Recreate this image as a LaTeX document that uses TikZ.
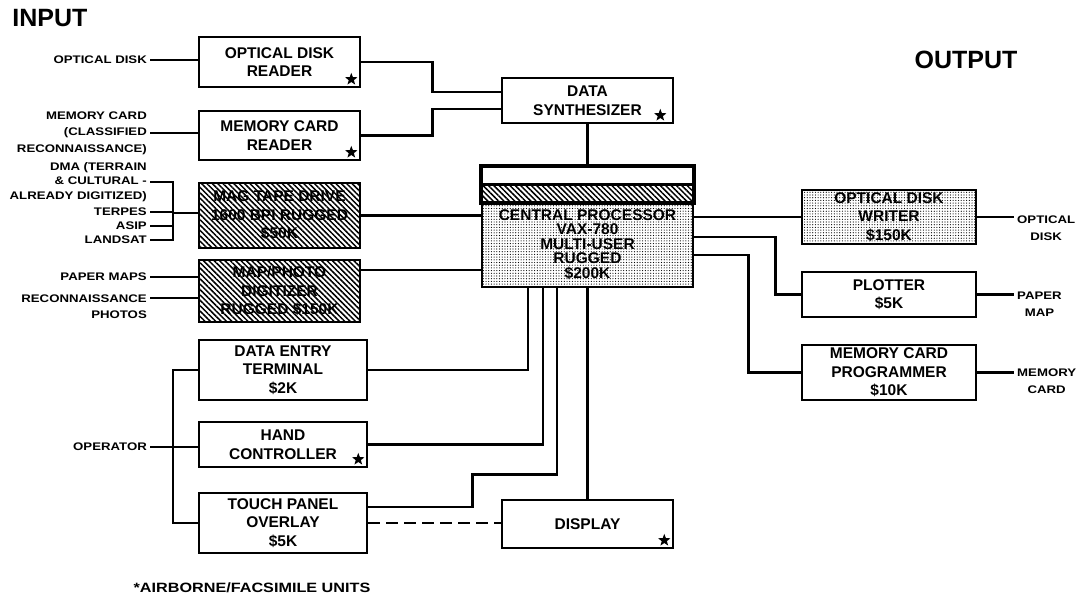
\documentclass[tikz,border=0pt]{standalone}
\usepackage{fontspec}
\usepackage{tikz}
\usetikzlibrary{calc,patterns.meta,shapes.geometric}
\newfontfamily\boxfam{Liberation Sans}
\newfontfamily\lblfam{Liberation Sans}[FakeStretch=1.2]
\newcommand\boxtxt{\boxfam\bfseries\fontsize{15.5}{18.5}\selectfont}
\newcommand\cputxt{\boxfam\bfseries\fontsize{15.5}{14.5}\selectfont}
\newcommand\lbltxt{\lblfam\bfseries\fontsize{11}{16.5}\selectfont}
\newcommand\dmatxt{\lblfam\bfseries\fontsize{11}{14.5}\selectfont}
\newcommand\outtxt{\lblfam\bfseries\fontsize{11}{17}\selectfont}
\newcommand\notetxt{\lblfam\bfseries\fontsize{13.5}{16}\selectfont}
\newcommand\ttltxt{\boxfam\bfseries\fontsize{25}{28}\selectfont}
\tikzset{
  blk/.style     = {draw, line width=2.6pt, fill=white, align=center, inner sep=2pt, font=\boxtxt},
  hatchblk/.style= {blk, pattern={Lines[angle=-45,distance=3.8pt,line width=1.5pt]}},
  dotblk/.style  = {blk, pattern={Dots[radius=0.6pt,distance=2.7pt]}},
  wire/.style    = {line width=2.6pt},
  inlbl/.style   = {font=\lbltxt, align=right, inner sep=3pt},
  outlbl/.style  = {font=\outtxt, align=center, inner sep=3pt},
  ttl/.style     = {font=\ttltxt, inner sep=0pt},
  airb/.style    = {star, star points=5, star point ratio=2.4, fill, inner sep=0pt, minimum size=13pt},
}
\begin{document}
\begin{tikzpicture}[x=1pt,y=-1pt]
  \useasboundingbox (0,0) rectangle (1084,600);
  \node[ttl] (tin) at (50,18) {INPUT};
  \node[ttl] (tout) at (966,60) {OUTPUT};

  % input side
  \node[blk, minimum width=161pt, minimum height=50pt] (odr) at (279.5,62) {OPTICAL DISK\\READER};
  \node[blk, minimum width=161pt, minimum height=49pt] (mcr) at (279.5,135.5) {MEMORY CARD\\READER};
  \node[hatchblk, minimum width=161pt, minimum height=65pt] (mtd) at (279.5,215.5) {MAG TAPE DRIVE\\1600 BPI RUGGED\\\$50K};
  \node[hatchblk, minimum width=161pt, minimum height=62pt] (mpd) at (279.5,291) {MAP/PHOTO\\DIGITIZER\\RUGGED \$150K};
  \node[blk, minimum width=168pt, minimum height=60pt] (det) at (283,370) {DATA ENTRY\\TERMINAL\\\$2K};
  \node[blk, minimum width=168pt, minimum height=45pt] (hc) at (283,444.5) {HAND\\CONTROLLER};
  \node[blk, minimum width=168pt, minimum height=60pt] (tpo) at (283,523) {TOUCH PANEL\\OVERLAY\\\$5K};

  % centre
  \node[blk, minimum width=171pt, minimum height=45pt] (ds) at (587.5,100.5) {DATA\\SYNTHESIZER};
  \node[dotblk, minimum width=211pt, minimum height=85pt, font=\cputxt] (cpu) at (587.5,244.5)
    {CENTRAL PROCESSOR\\VAX-780\\MULTI-USER\\RUGGED\\\$200K};
  \node[blk, minimum width=211pt, minimum height=35pt, anchor=south] (cpucap) at ([yshift=-2.6pt]cpu.north) {};
  \fill[pattern={Lines[angle=-45,distance=3.8pt,line width=1.5pt]}] (cpucap.west) rectangle (cpucap.south east);
  \draw[line width=2.6pt] (cpucap.west) -- (cpucap.east);
  \draw[line width=2.6pt] (cpucap.south west) rectangle (cpucap.north east);
  \node[blk, minimum width=171pt, minimum height=48pt] (dsp) at (587.5,524) {DISPLAY};

  % output side
  \node[dotblk, minimum width=174pt, minimum height=54pt] (odw) at (889,217) {OPTICAL DISK\\WRITER\\\$150K};
  \node[blk, minimum width=174pt, minimum height=45pt] (plt) at (889,294.5) {PLOTTER\\\$5K};
  \node[blk, minimum width=174pt, minimum height=55pt] (mcp) at (889,372.5) {MEMORY CARD\\PROGRAMMER\\\$10K};

  % airborne marks
  \node[airb] (odrS) at ([xshift=-10pt,yshift=9pt]odr.south east) {};
  \node[airb] (mcrS) at ([xshift=-10pt,yshift=9pt]mcr.south east) {};
  \node[airb] (dsS) at ([xshift=-14pt,yshift=9pt]ds.south east) {};
  \node[airb] (hcS) at ([xshift=-10pt,yshift=9pt]hc.south east) {};
  \node[airb] (dspS) at ([xshift=-10pt,yshift=9pt]dsp.south east) {};

  % input labels
  \node[inlbl, anchor=east] (lOD) at (150,60) {OPTICAL DISK};
  \node[inlbl, anchor=east] (lMC) at (150,133) {MEMORY CARD\\(CLASSIFIED\\RECONNAISSANCE)};
  \node[inlbl, anchor=east, font=\dmatxt] (lDMA) at (150,182) {DMA (TERRAIN\\\& CULTURAL -\\ALREADY DIGITIZED)};
  \node[inlbl, anchor=east] (lTP) at (150,212) {TERPES};
  \node[inlbl, anchor=east] (lAS) at (150,226) {ASIP};
  \node[inlbl, anchor=east] (lLS) at (150,240) {LANDSAT};
  \node[inlbl, anchor=east] (lPM) at (150,277) {PAPER MAPS};
  \node[inlbl, anchor=east] (lRP) at (150,306.5) {RECONNAISSANCE\\PHOTOS};
  \node[inlbl, anchor=east] (lOP) at (150,447) {OPERATOR};
  \coordinate (brk) at (173,213);
  \coordinate (opb) at (173,447);

  \draw[wire] (lOD.east) -- (lOD.east -| odr.west);
  \draw[wire] (lMC.east) -- (lMC.east -| mcr.west);
  \draw[wire] (lDMA.east) -| (brk);
  \draw[wire] (lLS.east) -| (brk);
  \draw[wire] (lTP.east) -- (lTP.east -| brk);
  \draw[wire] (lAS.east) -- (lAS.east -| brk);
  \draw[wire] (brk) -- (brk -| mtd.west);
  \draw[wire] (lPM.east) -- (lPM.east -| mpd.west);
  \draw[wire] ([yshift=8.5pt]lRP.east) -- ++(49,0);
  \draw[wire] (lOP.east) -- (lOP.east -| hc.west);
  \draw[wire] (det.west) -| (opb) |- (tpo.west);

  % to the processor
  \draw[wire] (odr.east) -- ++(71,0) |- ([yshift=8.5pt]ds.west);
  \draw[wire] (mcr.east) -- ++(71,0) |- ([yshift=-8.5pt]ds.west);
  \draw[wire] (ds.south) -- (cpucap.north);
  \draw[wire] (mtd.east) -- (mtd.east -| cpu.west);
  \draw[wire] ([yshift=21pt]mpd.east) -- ([yshift=21pt]mpd.east -| cpu.west);
  \draw[wire] (det.east) -| ([xshift=-59.5pt]cpu.south);
  \draw[wire] (hc.east) -| ([xshift=-44.5pt]cpu.south);
  \draw[wire] ([yshift=16pt]tpo.east) -- ++(104,0) |- ([xshift=-30.5pt,yshift=-186pt]cpu.south) -- ([xshift=-30.5pt]cpu.south);
  \draw[wire] (cpu.south) -- (dsp.north);
  \draw[wire, dash pattern=on 12pt off 6pt] (tpo.east) -- (tpo.east -| dsp.west);

  % to the outputs
  \draw[wire] (odw.west -| cpu.east) -- (odw.west);
  \draw[wire] ([yshift=7.5pt]cpu.east) -- ++(81,0) |- (plt.west);
  \draw[wire] ([yshift=-10.5pt]cpu.east) -- ++(54,0) |- (mcp.west);

  \node[outlbl, anchor=west] (oOD) at (1014,228) {OPTICAL\\DISK};
  \node[outlbl, anchor=west] (oPM) at (1014,304.5) {PAPER\\MAP};
  \node[outlbl, anchor=west] (oMC) at (1014,381.5) {MEMORY\\CARD};
  \draw[wire] (odw.east) -- (odw.east -| oOD.west);
  \draw[wire] (plt.east) -- (plt.east -| oPM.west);
  \draw[wire] (mcp.east) -- (mcp.east -| oMC.west);

  \node[font=\notetxt] (fn) at (252,588) {*AIRBORNE/FACSIMILE UNITS};
\end{tikzpicture}
\end{document}
